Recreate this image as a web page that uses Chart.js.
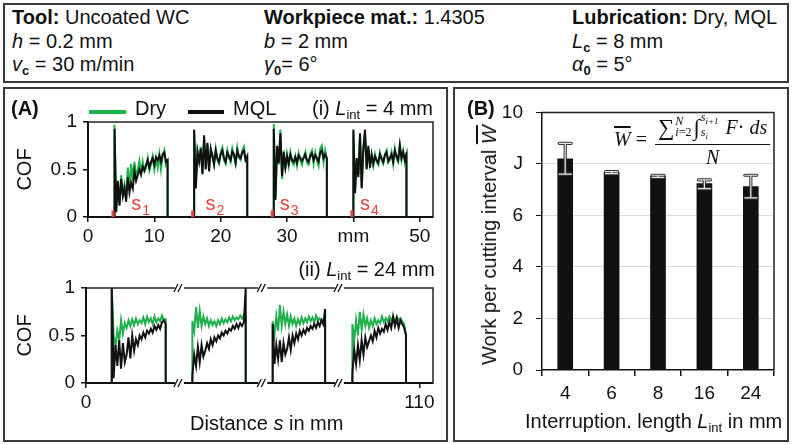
<!DOCTYPE html>
<html>
<head>
<meta charset="utf-8">
<script src="https://cdn.jsdelivr.net/npm/chart.js@4.4.1/dist/chart.umd.min.js"></script>
<style>
body { margin: 0; width: 792px; height: 444px; background: #fff; position: relative; overflow: hidden;
       font-family: 'Liberation Sans', Arial, sans-serif; color: #111; }
.box { position: absolute; border: 2px solid #3a3a3a; box-sizing: border-box; }
.t { position: absolute; white-space: nowrap; font-size: 20px; line-height: 1; }
.t sub { font-size: 13px; vertical-align: -4px; line-height: 0; }
.rot { position: absolute; white-space: nowrap; font-size: 20px; line-height: 1;
       transform: translate(-50%, -50%) rotate(-90deg); }
canvas { position: absolute; }
.leg { position: absolute; height: 4px; }
#formula { position: absolute; left: 614px; top: 112px; font-family: 'Liberation Serif', serif; font-style: italic;
           font-size: 20px; white-space: nowrap; display: flex; align-items: center; }
.frac { display: inline-flex; flex-direction: column; align-items: center; margin-left: 8px; }
.num { border-bottom: 1px solid #111; padding: 0 3px 1px 3px; display: flex; align-items: center; line-height: 1; }
.den { padding-top: 1px; line-height: 1.1; }
.ss { display: inline-flex; flex-direction: column; font-size: 12px; line-height: 11px; margin: 0 2px 0 1px; }
.big { font-style: normal; font-size: 23px; }
.up { font-style: normal; }
</style>
</head>
<body>

<div class="box" style="left:3px;top:3px;width:786px;height:80px"></div>
<div class="box" style="left:3px;top:87px;width:445px;height:355px"></div>
<div class="box" style="left:453px;top:87px;width:336px;height:355px"></div>

<canvas id="cTop" width="447" height="170" style="left:0;top:88px"></canvas>
<canvas id="cBot" width="447" height="157" style="left:0;top:256px"></canvas>
<canvas id="cBar" width="335" height="353" style="left:454px;top:88px"></canvas>

<!-- header -->
<div class="t" style="left:12px;top:7px"><b>Tool:</b> Uncoated WC</div>
<div class="t" style="left:12px;top:31px"><i>h</i> = 0.2 mm</div>
<div class="t" style="left:12px;top:54px"><i>v</i><sub><b>c</b></sub> = 30 m/min</div>
<div class="t" style="left:264px;top:7px"><b>Workpiece mat.:</b> 1.4305</div>
<div class="t" style="left:264px;top:31px"><i>b</i> = 2 mm</div>
<div class="t" style="left:264px;top:54px"><i>γ</i><sub><b>0</b></sub>= 6°</div>
<div class="t" style="left:572px;top:7px"><b>Lubrication:</b> Dry, MQL</div>
<div class="t" style="left:572px;top:31px"><i>L</i><sub><b>c</b></sub> = 8 mm</div>
<div class="t" style="left:572px;top:54px"><i>α</i><sub><b>0</b></sub> = 5°</div>

<!-- panel A -->
<div class="t" style="left:11px;top:98px"><b>(A)</b></div>
<div class="leg" style="left:89px;top:110px;width:37px;background:#1fb04c"></div>
<div class="t" style="left:135px;top:98px">Dry</div>
<div class="leg" style="left:188px;top:110px;width:36px;background:#111"></div>
<div class="t" style="left:233px;top:98px">MQL</div>
<div class="t" style="right:359px;top:98px">(i) <i>L</i><sub>int</sub> = 4 mm</div>
<div class="t" style="right:357px;top:259px">(ii) <i>L</i><sub>int</sub> = 24 mm</div>
<div class="t" style="left:190px;top:413px">Distance <i>s</i> in mm</div>

<!-- panel B -->
<div class="t" style="left:467px;top:98px"><b>(B)</b></div>
<div class="rot" style="left:489px;top:245px">Work per cutting interval <i style="text-decoration:overline">W</i></div>
<div class="t" style="left:525px;top:411px">Interruption. length <i>L</i><sub>int</sub> in mm</div>
<div id="formula">
  <span style="text-decoration:overline">W</span>&nbsp;<span class="up">=</span>
  <span class="frac">
    <span class="num"><span class="big">∑</span><span class="ss"><span>N</span><span>i<span class="up">=2</span></span></span><span class="big">∫</span><span class="ss"><span>s<sub style="font-size:9px">i+1</sub></span><span>s<sub style="font-size:9px">i</sub></span></span>&nbsp;F <span class="up">·</span>&nbsp;ds</span>
    <span class="den">N</span>
  </span>
</div>

<script>
// ---- panel A (i): L_int = 4 mm, cuts of 8 mm
const topStarts = [4, 16, 28, 40];
const topEnds = [12, 24, 36, 48];
const topMql = [
  [0.93,0.05,0.38,0.12,0.40,0.22,0.30,0.16,0.42,0.26,0.36,0.30,0.48,0.38,0.44,0.50,0.45,0.53,0.49,0.55,0.60,0.52,0.58,0.62,0.55,0.63,0.60,0.65,0.58,0.66,0.68,0.58,0.60],
  [0.92,0.30,0.68,0.58,0.72,0.45,0.86,0.50,0.78,0.48,0.72,0.64,0.55,0.70,0.62,0.58,0.66,0.70,0.62,0.58,0.68,0.64,0.60,0.69,0.66,0.57,0.70,0.64,0.62,0.68,0.70,0.60,0.64],
  [0.93,0.18,0.75,0.57,0.88,0.43,0.68,0.52,0.64,0.56,0.66,0.60,0.58,0.63,0.57,0.65,0.62,0.59,0.62,0.66,0.60,0.58,0.64,0.67,0.60,0.65,0.62,0.58,0.68,0.70,0.62,0.66,0.62],
  [0.92,0.25,0.62,0.42,0.88,0.30,0.72,0.92,0.50,0.75,0.52,0.66,0.56,0.64,0.60,0.57,0.66,0.62,0.58,0.65,0.68,0.59,0.62,0.66,0.58,0.70,0.64,0.60,0.76,0.62,0.68,0.60,0.66]
];
const topDry = [
  [0.97,0.08,0.35,0.14,0.44,0.24,0.34,0.20,0.52,0.30,0.56,0.38,0.58,0.42,0.50,0.59,0.46,0.58,0.48,0.52,0.62,0.49,0.56,0.64,0.50,0.62,0.52,0.66,0.50,0.64,0.70,0.54,0.56],
  [0.90,0.32,0.70,0.60,0.74,0.46,0.82,0.52,0.76,0.50,0.70,0.66,0.56,0.72,0.60,0.56,0.68,0.73,0.60,0.56,0.70,0.62,0.58,0.72,0.64,0.56,0.73,0.62,0.60,0.70,0.74,0.60,0.62],
  [0.98,0.20,0.72,0.55,0.92,0.40,0.70,0.50,0.66,0.54,0.68,0.58,0.55,0.64,0.54,0.67,0.60,0.55,0.63,0.68,0.57,0.55,0.66,0.70,0.56,0.68,0.60,0.54,0.72,0.75,0.58,0.70,0.60],
  [0.90,0.28,0.60,0.45,0.85,0.32,0.70,0.88,0.52,0.72,0.55,0.64,0.54,0.66,0.58,0.55,0.68,0.60,0.56,0.66,0.70,0.57,0.60,0.68,0.56,0.72,0.62,0.58,0.74,0.60,0.70,0.58,0.68]
];
const topXTicks = [0, 10, 20, 30, 40, 50];
const topXLabels = ['0', '10', '20', '30', 'mm', '50'];
const sLabelX = [6.5, 17.7, 28.9, 41.0];
const sLabelSub = ['1', '2', '3', '4'];

// ---- panel A (ii): L_int = 24 mm, broken distance axis
const botStarts = [8.5, 35.1, 61.6, 87.9];
const botEnds = [26.3, 52.7, 78.9, 105.6];
const botMql = [
  [1.00,0.05,0.40,0.18,0.45,0.15,0.42,0.22,0.30,0.48,0.26,0.50,0.34,0.46,0.40,0.50,0.46,0.53,0.48,0.55,0.52,0.57,0.53,0.60,0.56,0.61,0.57,0.64,0.66,0.62],
  [0.08,0.30,0.18,0.38,0.22,0.40,0.28,0.34,0.42,0.36,0.46,0.40,0.48,0.44,0.50,0.47,0.53,0.50,0.55,0.52,0.57,0.55,0.60,0.57,0.62,0.58,0.63,0.60,0.64,1.00],
  [0.62,0.20,0.40,0.25,0.45,0.22,0.42,0.30,0.36,0.48,0.35,0.50,0.42,0.52,0.46,0.55,0.50,0.56,0.52,0.58,0.55,0.60,0.57,0.62,0.58,0.64,0.60,0.66,0.62,0.78],
  [0.10,0.35,0.20,0.40,0.24,0.45,0.30,0.48,0.38,0.44,0.50,0.44,0.55,0.48,0.58,0.52,0.57,0.54,0.62,0.56,0.64,0.58,0.70,0.60,0.68,0.58,0.66,0.62,0.58,0.50]
];
const botDry = [
  [1.00,0.50,0.38,0.55,0.45,0.66,0.52,0.63,0.58,0.66,0.60,0.67,0.61,0.68,0.62,0.66,0.63,0.69,0.62,0.70,0.64,0.68,0.62,0.70,0.64,0.68,0.65,0.71,0.66,0.67],
  [0.65,0.55,0.80,0.58,0.76,0.60,0.70,0.62,0.68,0.60,0.66,0.61,0.65,0.60,0.66,0.62,0.68,0.63,0.67,0.64,0.69,0.65,0.70,0.66,0.69,0.67,0.71,0.68,0.72,0.70],
  [0.65,0.50,0.70,0.55,0.82,0.60,0.75,0.62,0.72,0.60,0.70,0.62,0.68,0.60,0.67,0.62,0.69,0.63,0.68,0.64,0.70,0.65,0.69,0.64,0.71,0.66,0.68,0.65,0.67,0.65],
  [0.62,0.45,0.66,0.50,0.75,0.56,0.72,0.60,0.68,0.58,0.66,0.60,0.68,0.62,0.66,0.63,0.70,0.64,0.68,0.65,0.70,0.66,0.69,0.65,0.70,0.66,0.68,0.65,0.62,0.50]
];
const botXTicks = [0, 110];
const botBreaks = [31.0, 58.5, 83.8];
const cofTicks = [0, 0.5, 1];

// ---- panel B: work per cutting interval
const intLengths = ['4', '6', '8', '16', '24'];
const workMean = [8.2, 7.66, 7.52, 7.24, 7.12];
const workLow = [7.6, 7.62, 7.48, 7.04, 6.68];
const workHigh = [8.8, 7.70, 7.56, 7.38, 7.56];
const workTicks = [0, 2, 4, 6, 8, 10];
const workTickLabels = ['0', '2', '4', '6', 'J', '10'];

const GREEN = '#1fb04c';
const BLACK = '#111111';
const RED = '#e8413c';
Chart.defaults.font.family = "'Liberation Sans', Arial, sans-serif";
Chart.defaults.color = '#111';

function buildTrace(starts, ends, segs, xMax) {
  const pts = [{x: 0, y: 0}];
  segs.forEach((vals, k) => {
    const a = starts[k], b = ends[k];
    pts.push({x: a, y: 0});
    vals.forEach((v, i) => pts.push({x: a + (b - a) * i / (vals.length - 1), y: v}));
    pts.push({x: b, y: 0});
  });
  pts.push({x: xMax, y: 0});
  return pts;
}

const framePlugin = {
  id: 'frame',
  afterDatasetsDraw(chart) {
    const {ctx, chartArea: a} = chart;
    ctx.save();
    ctx.strokeStyle = '#222';
    ctx.lineWidth = 1.5;
    ctx.beginPath();
    ctx.moveTo(a.left, a.top);
    ctx.lineTo(a.right, a.top);
    ctx.lineTo(a.right, a.bottom);
    ctx.stroke();
    ctx.restore();
  }
};

const sLabelPlugin = {
  id: 'slabels',
  afterDatasetsDraw(chart) {
    const {ctx, scales: {x, y}} = chart;
    ctx.save();
    ctx.fillStyle = RED;
    ctx.strokeStyle = RED;
    ctx.lineWidth = 3;
    topStarts.forEach(s => {
      const px = x.getPixelForValue(s) - 1.5;
      ctx.beginPath();
      ctx.moveTo(px, y.getPixelForValue(0));
      ctx.lineTo(px, y.getPixelForValue(0.07));
      ctx.stroke();
    });
    sLabelX.forEach((s, i) => {
      const px = x.getPixelForValue(s);
      const py = y.getPixelForValue(0.07);
      ctx.font = "20px 'Liberation Sans', Arial, sans-serif";
      ctx.textBaseline = 'alphabetic';
      ctx.fillText('s', px, py);
      const w = ctx.measureText('s').width;
      ctx.font = "14px 'Liberation Sans', Arial, sans-serif";
      ctx.fillText(sLabelSub[i], px + w + 1, py + 5);
    });
    ctx.restore();
  }
};

const breakPlugin = {
  id: 'breaks',
  afterDraw(chart) {
    const {ctx, chartArea: a, scales: {x}} = chart;
    ctx.save();
    botBreaks.forEach(b => {
      const px = x.getPixelForValue(b);
      [a.top, a.bottom].forEach(py => {
        ctx.fillStyle = '#fff';
        ctx.fillRect(px - 5, py - 2, 9, 4);
        ctx.strokeStyle = '#111';
        ctx.lineWidth = 1.3;
        [-4, 0].forEach(d => {
          ctx.beginPath();
          ctx.moveTo(px + d - 2, py + 4);
          ctx.lineTo(px + d + 2, py - 4);
          ctx.stroke();
        });
      });
    });
    ctx.restore();
  }
};

function cofOptions(xMax, xTicks, xLabels, padTop) {
  return {
    responsive: false, animation: false, devicePixelRatio: 1,
    layout: {padding: {top: padTop, right: 14, left: 0, bottom: 0}},
    plugins: {legend: {display: false}, tooltip: {enabled: false}},
    elements: {point: {radius: 0}, line: {borderWidth: 2, tension: 0}},
    scales: {
      x: {
        type: 'linear', min: 0, max: xMax,
        afterBuildTicks: s => { s.ticks = xTicks.map(v => ({value: v})); },
        afterFit: s => { s.paddingLeft = 0; s.paddingRight = 0; },
        ticks: {font: {size: 19}, padding: 3, maxRotation: 0,
                callback: (v, i) => xLabels[i]},
        grid: {drawOnChartArea: false, tickLength: 5, color: '#111', lineWidth: 1.5},
        border: {color: '#111', width: 2}
      },
      y: {
        min: 0, max: 1,
        afterBuildTicks: s => { s.ticks = cofTicks.map(v => ({value: v})); },
        afterFit: s => { s.width = 88; },
        ticks: {font: {size: 19}, padding: 6, callback: v => String(v)},
        grid: {drawOnChartArea: false, tickLength: 5, color: '#111', lineWidth: 1.5},
        border: {color: '#111', width: 2},
        title: {display: true, text: 'COF', font: {size: 20}, padding: {top: 13, bottom: 0}, color: '#111'}
      }
    }
  };
}

const topChart = new Chart(document.getElementById('cTop'), {
  type: 'line',
  data: {datasets: [
    {label: 'MQL', data: buildTrace(topStarts, topEnds, topMql, 52), borderColor: BLACK, order: 0},
    {label: 'Dry', data: buildTrace(topStarts, topEnds, topDry, 52), borderColor: GREEN, order: 1}
  ]},
  options: cofOptions(52, topXTicks, topXLabels, 34),
  plugins: [framePlugin, sLabelPlugin]
});
topChart.options.scales.x.afterFit = s => { s.height = 41; s.paddingLeft = 0; s.paddingRight = 0; };
topChart.update();

const botChart = new Chart(document.getElementById('cBot'), {
  type: 'line',
  data: {datasets: [
    {label: 'MQL', data: buildTrace(botStarts, botEnds, botMql, 114.5), borderColor: BLACK, order: 0},
    {label: 'Dry', data: buildTrace(botStarts, botEnds, botDry, 114.5), borderColor: GREEN, order: 1}
  ]},
  options: cofOptions(114.5, botXTicks, ['0', '110'], 32),
  plugins: [framePlugin, breakPlugin]
});
botChart.options.scales.x.afterFit = s => { s.height = 30; s.paddingLeft = 0; s.paddingRight = 0; };
botChart.options.scales.y.afterFit = s => { s.width = 86; };
botChart.update();

const errorBarPlugin = {
  id: 'errbars',
  afterDatasetsDraw(chart) {
    const {ctx, scales: {y}} = chart;
    const meta = chart.getDatasetMeta(0);
    ctx.save();
    meta.data.forEach((bar, i) => {
      const x = bar.x;
      const yl = y.getPixelForValue(workLow[i]);
      const yh = y.getPixelForValue(workHigh[i]);
      const path = () => {
        ctx.beginPath();
        ctx.moveTo(x, yh); ctx.lineTo(x, yl);
        ctx.moveTo(x - 6, yh); ctx.lineTo(x + 6, yh);
        ctx.moveTo(x - 6, yl); ctx.lineTo(x + 6, yl);
      };
      ctx.lineCap = 'round';
      ctx.strokeStyle = '#333'; ctx.lineWidth = 3.2; path(); ctx.stroke();
      ctx.strokeStyle = '#e6e6e6'; ctx.lineWidth = 1.2; path(); ctx.stroke();
    });
    ctx.restore();
  }
};

new Chart(document.getElementById('cBar'), {
  type: 'bar',
  data: {labels: intLengths, datasets: [{data: workMean, backgroundColor: BLACK, barThickness: 15}]},
  options: {
    responsive: false, animation: false, devicePixelRatio: 1,
    layout: {padding: {top: 19, right: 15, left: 0, bottom: 0}},
    plugins: {legend: {display: false}, tooltip: {enabled: false}},
    scales: {
      x: {
        afterFit: s => { s.height = 71; s.paddingLeft = 0; s.paddingRight = 0; },
        ticks: {font: {size: 19}, padding: 6},
        grid: {offset: true, drawOnChartArea: false, tickLength: 6, color: '#111', lineWidth: 1.5},
        border: {color: '#111', width: 1.5}
      },
      y: {
        min: 0, max: 10,
        afterBuildTicks: s => { s.ticks = workTicks.map(v => ({value: v})); },
        afterFit: s => { s.width = 88; },
        ticks: {font: {size: 19}, padding: 13, callback: (v, i) => workTickLabels[i]},
        grid: {tickLength: 6, tickColor: '#111', lineWidth: 1,
               color: c => (c.tick && c.tick.value > 0 && c.tick.value < 10) ? '#dcdcdc' : 'rgba(0,0,0,0)'},
        border: {color: '#111', width: 1.5}
      }
    }
  },
  plugins: [framePlugin, errorBarPlugin]
});
</script>
</body>
</html>
